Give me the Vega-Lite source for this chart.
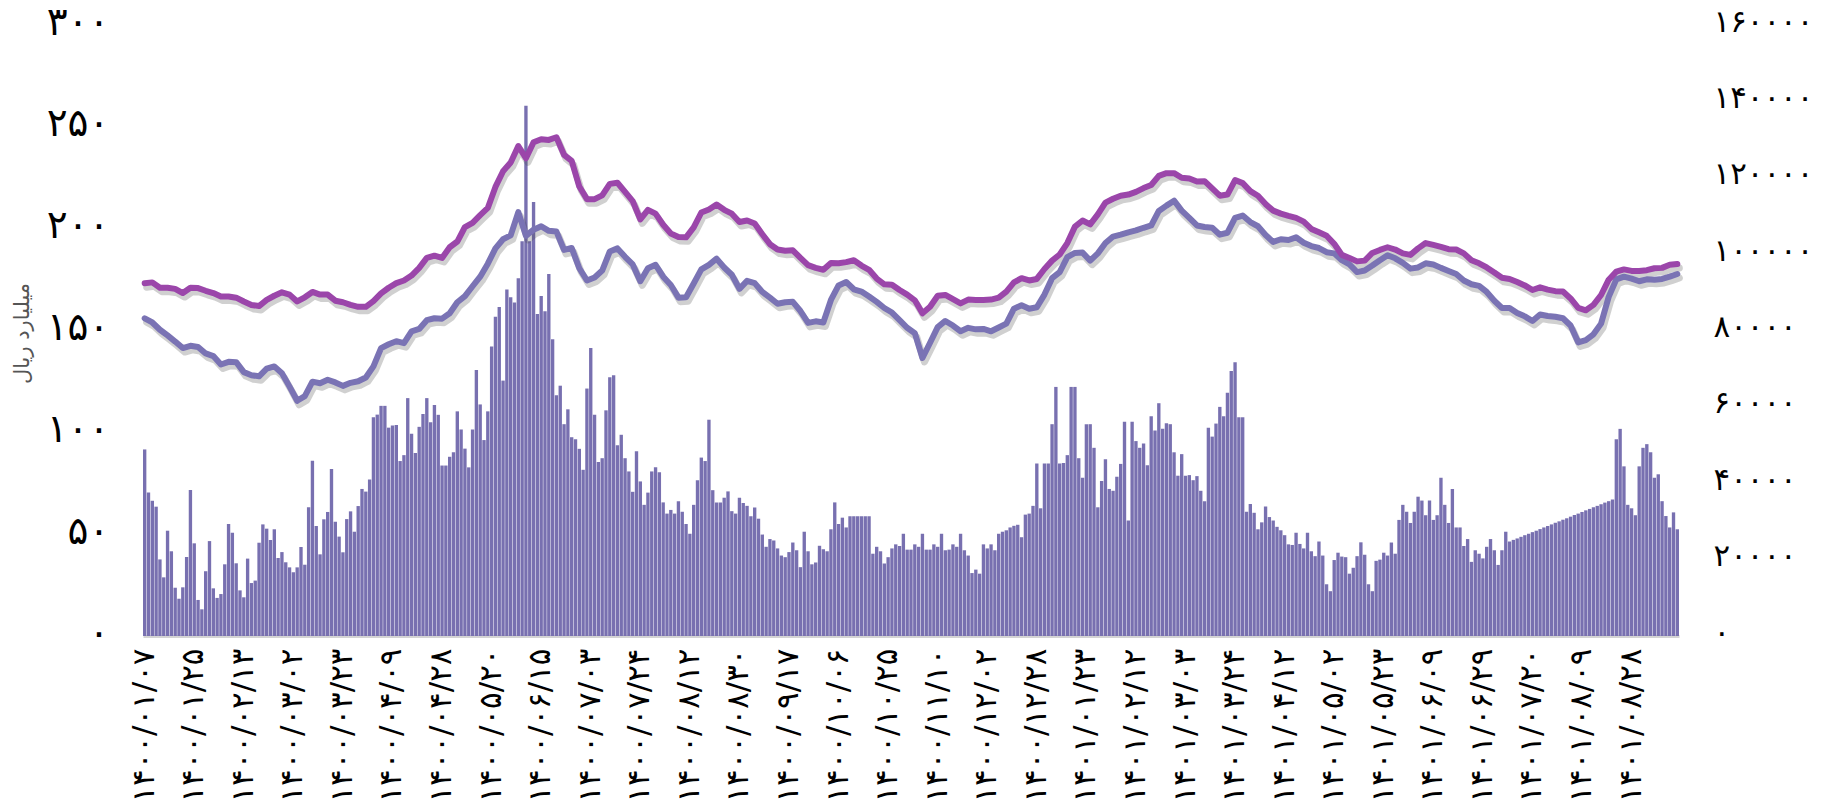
{
"$schema":"https://vega.github.io/schema/vega-lite/v6.json",
"width":1536,"height":611,
"autosize":{"type":"none"},
"padding":{"left":143,"top":25,"right":151,"bottom":166},
"background":"#ffffff",
"config":{"view":{"stroke":null},"font":"DejaVu Sans"},
"data":{"values":[
{"d":"۱۴۰۰/۰۱/۰۷","v":91.6,"a":92400,"b":83200},
{"d":"۱۴۰۰/۰۱/۰۸","v":70.5},
{"d":"۱۴۰۰/۰۱/۰۹","v":66.4,"a":92600,"b":82100},
{"d":"۱۴۰۰/۰۱/۱۰","v":63.5},
{"d":"۱۴۰۰/۰۱/۱۴","v":37.6,"a":91200,"b":80200},
{"d":"۱۴۰۰/۰۱/۱۵","v":28.8},
{"d":"۱۴۰۰/۰۱/۱۶","v":51.7,"a":91200,"b":78700},
{"d":"۱۴۰۰/۰۱/۱۷","v":41.6},
{"d":"۱۴۰۰/۰۱/۱۸","v":23.7,"a":90900,"b":77100},
{"d":"۱۴۰۰/۰۱/۲۱","v":18.3},
{"d":"۱۴۰۰/۰۱/۲۲","v":23.9,"a":89800,"b":75400},
{"d":"۱۴۰۰/۰۱/۲۳","v":38.8},
{"d":"۱۴۰۰/۰۱/۲۴","v":71.7,"a":91200,"b":76000},
{"d":"۱۴۰۰/۰۱/۲۵","v":45.5},
{"d":"۱۴۰۰/۰۱/۲۸","v":17.7,"a":91100,"b":75700},
{"d":"۱۴۰۰/۰۱/۲۹","v":13.1},
{"d":"۱۴۰۰/۰۱/۳۰","v":31.8,"a":90400,"b":74000},
{"d":"۱۴۰۰/۰۱/۳۱","v":46.6},
{"d":"۱۴۰۰/۰۲/۰۱","v":23.4,"a":89800,"b":73300},
{"d":"۱۴۰۰/۰۲/۰۴","v":18.7},
{"d":"۱۴۰۰/۰۲/۰۵","v":20.6,"a":88900,"b":71100},
{"d":"۱۴۰۰/۰۲/۰۶","v":35.2},
{"d":"۱۴۰۰/۰۲/۰۷","v":55,"a":88900,"b":71800},
{"d":"۱۴۰۰/۰۲/۰۸","v":50.7},
{"d":"۱۴۰۰/۰۲/۱۱","v":35.7,"a":88600,"b":71700},
{"d":"۱۴۰۰/۰۲/۱۲","v":22.4},
{"d":"۱۴۰۰/۰۲/۱۳","v":19,"a":87600,"b":69100},
{"d":"۱۴۰۰/۰۲/۱۵","v":38},
{"d":"۱۴۰۰/۰۲/۱۸","v":26,"a":86700,"b":68300},
{"d":"۱۴۰۰/۰۲/۱۹","v":27.2},
{"d":"۱۴۰۰/۰۲/۲۰","v":45.8,"a":86400,"b":68000},
{"d":"۱۴۰۰/۰۲/۲۱","v":54.8},
{"d":"۱۴۰۰/۰۲/۲۲","v":52.7,"a":88000,"b":70000},
{"d":"۱۴۰۰/۰۲/۲۵","v":47.1},
{"d":"۱۴۰۰/۰۲/۲۶","v":52.4,"a":89100,"b":70600},
{"d":"۱۴۰۰/۰۲/۲۷","v":38.3},
{"d":"۱۴۰۰/۰۲/۲۸","v":41.2,"a":90000,"b":68800},
{"d":"۱۴۰۰/۰۲/۲۹","v":36.2},
{"d":"۱۴۰۰/۰۳/۰۱","v":33.7,"a":89400,"b":65300},
{"d":"۱۴۰۰/۰۳/۰۲","v":31.3},
{"d":"۱۴۰۰/۰۳/۰۳","v":33.7,"a":87600,"b":61600},
{"d":"۱۴۰۰/۰۳/۰۴","v":43.7},
{"d":"۱۴۰۰/۰۳/۰۵","v":35,"a":88700,"b":62800},
{"d":"۱۴۰۰/۰۳/۰۸","v":63.2},
{"d":"۱۴۰۰/۰۳/۰۹","v":86,"a":90100,"b":66600},
{"d":"۱۴۰۰/۰۳/۱۰","v":54},
{"d":"۱۴۰۰/۰۳/۱۱","v":40.1,"a":89400,"b":66200},
{"d":"۱۴۰۰/۰۳/۱۲","v":57.3},
{"d":"۱۴۰۰/۰۳/۱۶","v":60.9,"a":89400,"b":67100},
{"d":"۱۴۰۰/۰۳/۱۷","v":82},
{"d":"۱۴۰۰/۰۳/۱۸","v":56.1,"a":87800,"b":66400},
{"d":"۱۴۰۰/۰۳/۲۲","v":48.8},
{"d":"۱۴۰۰/۰۳/۲۳","v":41.1,"a":87400,"b":65500},
{"d":"۱۴۰۰/۰۳/۲۴","v":57.4},
{"d":"۱۴۰۰/۰۳/۲۵","v":61.2,"a":86700,"b":66300},
{"d":"۱۴۰۰/۰۳/۲۶","v":51.2},
{"d":"۱۴۰۰/۰۳/۲۹","v":63.8,"a":86200,"b":66700},
{"d":"۱۴۰۰/۰۳/۳۰","v":72.2},
{"d":"۱۴۰۰/۰۳/۳۱","v":70.9,"a":86200,"b":67700},
{"d":"۱۴۰۰/۰۴/۰۱","v":76.9},
{"d":"۱۴۰۰/۰۴/۰۲","v":107.4,"a":87700,"b":70600},
{"d":"۱۴۰۰/۰۴/۰۵","v":108.7},
{"d":"۱۴۰۰/۰۴/۰۶","v":113,"a":89700,"b":75400},
{"d":"۱۴۰۰/۰۴/۰۷","v":113},
{"d":"۱۴۰۰/۰۴/۰۸","v":102.3,"a":91200,"b":76400},
{"d":"۱۴۰۰/۰۴/۰۹","v":103.3},
{"d":"۱۴۰۰/۰۴/۱۲","v":103.6,"a":92400,"b":77200},
{"d":"۱۴۰۰/۰۴/۱۳","v":85.9},
{"d":"۱۴۰۰/۰۴/۱۴","v":88.8,"a":93100,"b":76700},
{"d":"۱۴۰۰/۰۴/۱۵","v":116.8},
{"d":"۱۴۰۰/۰۴/۱۶","v":99.3,"a":94400,"b":79800},
{"d":"۱۴۰۰/۰۴/۱۹","v":89.9},
{"d":"۱۴۰۰/۰۴/۲۰","v":102.7,"a":96400,"b":80400},
{"d":"۱۴۰۰/۰۴/۲۱","v":109},
{"d":"۱۴۰۰/۰۴/۲۲","v":116.8,"a":99000,"b":82700},
{"d":"۱۴۰۰/۰۴/۲۳","v":105},
{"d":"۱۴۰۰/۰۴/۲۶","v":113.4,"a":99600,"b":83200},
{"d":"۱۴۰۰/۰۴/۲۷","v":108.6},
{"d":"۱۴۰۰/۰۴/۲۸","v":83.7,"a":99000,"b":83100},
{"d":"۱۴۰۰/۰۴/۲۹","v":83.7},
{"d":"۱۴۰۰/۰۵/۰۲","v":88,"a":101800,"b":84500},
{"d":"۱۴۰۰/۰۵/۰۴","v":90.2},
{"d":"۱۴۰۰/۰۵/۰۵","v":110.3,"a":103300,"b":87400},
{"d":"۱۴۰۰/۰۵/۰۶","v":101.4},
{"d":"۱۴۰۰/۰۵/۰۹","v":92,"a":107100,"b":89000},
{"d":"۱۴۰۰/۰۵/۱۱","v":82.8},
{"d":"۱۴۰۰/۰۵/۱۲","v":101.4,"a":108200,"b":91600},
{"d":"۱۴۰۰/۰۵/۱۳","v":130.6},
{"d":"۱۴۰۰/۰۵/۱۶","v":113.7,"a":110200,"b":94100},
{"d":"۱۴۰۰/۰۵/۱۸","v":96.2},
{"d":"۱۴۰۰/۰۵/۱۹","v":110.3,"a":112100,"b":97500},
{"d":"۱۴۰۰/۰۵/۲۰","v":142.1},
{"d":"۱۴۰۰/۰۵/۲۳","v":156.7,"a":117600,"b":101500},
{"d":"۱۴۰۰/۰۵/۲۴","v":161.5},
{"d":"۱۴۰۰/۰۵/۲۶","v":125.4,"a":121700,"b":103900},
{"d":"۱۴۰۰/۰۵/۳۰","v":170.1},
{"d":"۱۴۰۰/۰۶/۰۱","v":166.3,"a":124000,"b":104900},
{"d":"۱۴۰۰/۰۶/۰۲","v":163.7},
{"d":"۱۴۰۰/۰۶/۰۳","v":175.6,"a":128300,"b":111000},
{"d":"۱۴۰۰/۰۶/۰۶","v":193.8},
{"d":"۱۴۰۰/۰۶/۰۸","v":260.3,"a":125100,"b":104800},
{"d":"۱۴۰۰/۰۶/۰۹","v":193.8},
{"d":"۱۴۰۰/۰۶/۱۰","v":213.1,"a":129300,"b":106400},
{"d":"۱۴۰۰/۰۶/۱۴","v":158.1},
{"d":"۱۴۰۰/۰۶/۱۵","v":167,"a":130100,"b":107300},
{"d":"۱۴۰۰/۰۶/۱۶","v":159.5},
{"d":"۱۴۰۰/۰۶/۱۷","v":177.8,"a":129900,"b":106100},
{"d":"۱۴۰۰/۰۶/۲۰","v":145.7},
{"d":"۱۴۰۰/۰۶/۲۱","v":118.2,"a":130600,"b":105900},
{"d":"۱۴۰۰/۰۶/۲۲","v":122.9},
{"d":"۱۴۰۰/۰۶/۲۳","v":104,"a":126000,"b":101100},
{"d":"۱۴۰۰/۰۶/۲۴","v":111.3},
{"d":"۱۴۰۰/۰۶/۲۷","v":97.6,"a":124400,"b":101600},
{"d":"۱۴۰۰/۰۶/۲۸","v":96.6},
{"d":"۱۴۰۰/۰۶/۲۹","v":91.9,"a":117700,"b":96300},
{"d":"۱۴۰۰/۰۶/۳۰","v":81.6},
{"d":"۱۴۰۰/۰۶/۳۱","v":121.5,"a":114400,"b":93100},
{"d":"۱۴۰۰/۰۷/۰۳","v":141.4},
{"d":"۱۴۰۰/۰۷/۰۴","v":108.6,"a":114400,"b":93900},
{"d":"۱۴۰۰/۰۷/۰۵","v":85.4},
{"d":"۱۴۰۰/۰۷/۰۷","v":87.3,"a":115400,"b":95700},
{"d":"۱۴۰۰/۰۷/۱۰","v":110.8},
{"d":"۱۴۰۰/۰۷/۱۱","v":127.1,"a":118400,"b":100700},
{"d":"۱۴۰۰/۰۷/۱۲","v":128},
{"d":"۱۴۰۰/۰۷/۱۴","v":93.6,"a":118700,"b":101500},
{"d":"۱۴۰۰/۰۷/۱۷","v":98.8},
{"d":"۱۴۰۰/۰۷/۱۸","v":87.3,"a":116300,"b":99300},
{"d":"۱۴۰۰/۰۷/۱۹","v":80.8},
{"d":"۱۴۰۰/۰۷/۲۰","v":70.8,"a":113900,"b":97300},
{"d":"۱۴۰۰/۰۷/۲۱","v":90.7},
{"d":"۱۴۰۰/۰۷/۲۴","v":75.9,"a":109100,"b":92900},
{"d":"۱۴۰۰/۰۷/۲۵","v":64.4},
{"d":"۱۴۰۰/۰۷/۲۶","v":70.4,"a":111600,"b":96300},
{"d":"۱۴۰۰/۰۷/۲۷","v":80.8},
{"d":"۱۴۰۰/۰۷/۲۸","v":82.8,"a":110600,"b":97200},
{"d":"۱۴۰۰/۰۸/۰۱","v":80.4},
{"d":"۱۴۰۰/۰۸/۰۳","v":65.6,"a":107700,"b":94100},
{"d":"۱۴۰۰/۰۸/۰۴","v":60.1},
{"d":"۱۴۰۰/۰۸/۰۵","v":61.9,"a":105400,"b":91900},
{"d":"۱۴۰۰/۰۸/۰۸","v":60.1},
{"d":"۱۴۰۰/۰۸/۰۹","v":66.2,"a":104500,"b":88600},
{"d":"۱۴۰۰/۰۸/۱۰","v":61},
{"d":"۱۴۰۰/۰۸/۱۱","v":55,"a":104400,"b":88700},
{"d":"۱۴۰۰/۰۸/۱۲","v":50.2},
{"d":"۱۴۰۰/۰۸/۱۳","v":64.4,"a":107000,"b":92300},
{"d":"۱۴۰۰/۰۸/۱۵","v":76.5},
{"d":"۱۴۰۰/۰۸/۱۶","v":87.6,"a":110900,"b":96000},
{"d":"۱۴۰۰/۰۸/۱۷","v":85.9},
{"d":"۱۴۰۰/۰۸/۱۸","v":106.2,"a":111700,"b":97200},
{"d":"۱۴۰۰/۰۸/۱۹","v":71.6},
{"d":"۱۴۰۰/۰۸/۲۲","v":65.6,"a":113000,"b":98800},
{"d":"۱۴۰۰/۰۸/۲۳","v":65.6},
{"d":"۱۴۰۰/۰۸/۲۴","v":67.9,"a":111600,"b":96500},
{"d":"۱۴۰۰/۰۸/۲۵","v":71},
{"d":"۱۴۰۰/۰۸/۲۶","v":61.3,"a":110600,"b":94600},
{"d":"۱۴۰۰/۰۸/۲۹","v":60.1},
{"d":"۱۴۰۰/۰۸/۳۰","v":67.9,"a":108400,"b":90900},
{"d":"۱۴۰۰/۰۹/۰۱","v":65.3},
{"d":"۱۴۰۰/۰۹/۰۲","v":63.9,"a":108800,"b":93000},
{"d":"۱۴۰۰/۰۹/۰۳","v":58.8},
{"d":"۱۴۰۰/۰۹/۰۶","v":63.1,"a":108000,"b":92400},
{"d":"۱۴۰۰/۰۹/۰۷","v":57.6},
{"d":"۱۴۰۰/۰۹/۰۸","v":49.8,"a":105200,"b":90100},
{"d":"۱۴۰۰/۰۹/۰۹","v":43.8},
{"d":"۱۴۰۰/۰۹/۱۰","v":47.6,"a":102600,"b":88600},
{"d":"۱۴۰۰/۰۹/۱۳","v":46.9},
{"d":"۱۴۰۰/۰۹/۱۴","v":43,"a":101200,"b":87000},
{"d":"۱۴۰۰/۰۹/۱۵","v":39.5},
{"d":"۱۴۰۰/۰۹/۱۶","v":38.7,"a":100900,"b":87400},
{"d":"۱۴۰۰/۰۹/۱۷","v":41.2},
{"d":"۱۴۰۰/۰۹/۲۰","v":45.9,"a":101000,"b":87500},
{"d":"۱۴۰۰/۰۹/۲۱","v":42.1},
{"d":"۱۴۰۰/۰۹/۲۲","v":33.8,"a":99000,"b":85100},
{"d":"۱۴۰۰/۰۹/۲۳","v":51.2},
{"d":"۱۴۰۰/۰۹/۲۴","v":41.6,"a":97100,"b":82000},
{"d":"۱۴۰۰/۰۹/۲۷","v":35.2},
{"d":"۱۴۰۰/۰۹/۲۸","v":36.1,"a":96400,"b":82400},
{"d":"۱۴۰۰/۰۹/۲۹","v":44.3},
{"d":"۱۴۰۰/۰۹/۳۰","v":42.6,"a":95900,"b":82100},
{"d":"۱۴۰۰/۱۰/۰۱","v":41.6},
{"d":"۱۴۰۰/۱۰/۰۴","v":52.4,"a":97700,"b":88000},
{"d":"۱۴۰۰/۱۰/۰۵","v":65.6},
{"d":"۱۴۰۰/۱۰/۰۶","v":55,"a":97600,"b":91800},
{"d":"۱۴۰۰/۱۰/۰۷","v":58.1},
{"d":"۱۴۰۰/۱۰/۰۸","v":53.3,"a":97900,"b":92700},
{"d":"۱۴۰۰/۱۰/۱۱","v":58.8},
{"d":"۱۴۰۰/۱۰/۱۲","v":58.8,"a":98400,"b":90800},
{"d":"۱۴۰۰/۱۰/۱۳","v":58.8},
{"d":"۱۴۰۰/۱۰/۱۴","v":58.8,"a":97000,"b":90200},
{"d":"۱۴۰۰/۱۰/۱۵","v":58.8},
{"d":"۱۴۰۰/۱۰/۱۸","v":58.8,"a":95900,"b":88900},
{"d":"۱۴۰۰/۱۰/۱۹","v":40.4},
{"d":"۱۴۰۰/۱۰/۲۰","v":43.8,"a":93600,"b":87500},
{"d":"۱۴۰۰/۱۰/۲۱","v":41.6},
{"d":"۱۴۰۰/۱۰/۲۲","v":35.6,"a":92100,"b":85900},
{"d":"۱۴۰۰/۱۰/۲۵","v":38.7},
{"d":"۱۴۰۰/۱۰/۲۶","v":43,"a":92000,"b":84700},
{"d":"۱۴۰۰/۱۰/۲۷","v":45},
{"d":"۱۴۰۰/۱۰/۲۸","v":44.2,"a":90600,"b":82700},
{"d":"۱۴۰۰/۱۰/۲۹","v":50.2},
{"d":"۱۴۰۰/۱۰/۳۰","v":42.4,"a":89400,"b":80700},
{"d":"۱۴۰۰/۱۱/۰۲","v":42.4},
{"d":"۱۴۰۰/۱۱/۰۳","v":45,"a":87900,"b":79300},
{"d":"۱۴۰۰/۱۱/۰۴","v":43.8},
{"d":"۱۴۰۰/۱۱/۰۵","v":50.2,"a":84500,"b":72800},
{"d":"۱۴۰۰/۱۱/۰۶","v":42.4},
{"d":"۱۴۰۰/۱۱/۰۷","v":42.4,"a":86200,"b":76800},
{"d":"۱۴۰۰/۱۱/۰۹","v":45},
{"d":"۱۴۰۰/۱۱/۱۰","v":43.8,"a":89100,"b":80900},
{"d":"۱۴۰۰/۱۱/۱۱","v":50.2},
{"d":"۱۴۰۰/۱۱/۱۳","v":42.1,"a":89300,"b":82500},
{"d":"۱۴۰۰/۱۱/۱۶","v":42.4},
{"d":"۱۴۰۰/۱۱/۱۷","v":45,"a":88200,"b":81300},
{"d":"۱۴۰۰/۱۱/۱۸","v":43.8},
{"d":"۱۴۰۰/۱۱/۲۰","v":50.2,"a":87100,"b":79800},
{"d":"۱۴۰۰/۱۱/۲۳","v":42.1},
{"d":"۱۴۰۰/۱۱/۲۴","v":39.5,"a":88100,"b":80700},
{"d":"۱۴۰۰/۱۱/۲۵","v":30.9},
{"d":"۱۴۰۰/۱۱/۲۷","v":32.6,"a":88000,"b":80300},
{"d":"۱۴۰۰/۱۱/۳۰","v":30.6},
{"d":"۱۴۰۰/۱۲/۰۱","v":45,"a":88000,"b":80400},
{"d":"۱۴۰۰/۱۲/۰۲","v":43},
{"d":"۱۴۰۰/۱۲/۰۳","v":45,"a":88100,"b":79800},
{"d":"۱۴۰۰/۱۲/۰۴","v":42.1},
{"d":"۱۴۰۰/۱۲/۰۷","v":50.2,"a":88600,"b":80800},
{"d":"۱۴۰۰/۱۲/۰۹","v":51.2},
{"d":"۱۴۰۰/۱۲/۱۱","v":51.9,"a":90200,"b":81800},
{"d":"۱۴۰۰/۱۲/۱۴","v":53.3},
{"d":"۱۴۰۰/۱۲/۱۶","v":54.1,"a":92600,"b":85700},
{"d":"۱۴۰۰/۱۲/۱۸","v":54.6},
{"d":"۱۴۰۰/۱۲/۲۱","v":48.5,"a":93700,"b":86600},
{"d":"۱۴۰۰/۱۲/۲۳","v":59.6},
{"d":"۱۴۰۰/۱۲/۲۴","v":60.1,"a":93100,"b":85700},
{"d":"۱۴۰۰/۱۲/۲۵","v":63.9},
{"d":"۱۴۰۰/۱۲/۲۸","v":84.7,"a":93500,"b":86100},
{"d":"۱۴۰۰/۱۲/۲۹","v":62.7},
{"d":"۱۴۰۱/۰۱/۰۷","v":84.7,"a":96100,"b":89400},
{"d":"۱۴۰۱/۰۱/۰۸","v":84.7},
{"d":"۱۴۰۱/۰۱/۰۹","v":104,"a":98300,"b":93700},
{"d":"۱۴۰۱/۰۱/۱۰","v":122.3},
{"d":"۱۴۰۱/۰۱/۱۴","v":84.7,"a":99900,"b":95300},
{"d":"۱۴۰۱/۰۱/۱۵","v":85},
{"d":"۱۴۰۱/۰۱/۱۶","v":88.8,"a":102900,"b":99200},
{"d":"۱۴۰۱/۰۱/۱۷","v":122.3},
{"d":"۱۴۰۱/۰۱/۲۰","v":122.3,"a":107200,"b":100300},
{"d":"۱۴۰۱/۰۱/۲۱","v":87.3},
{"d":"۱۴۰۱/۰۱/۲۲","v":77.7,"a":108800,"b":100400},
{"d":"۱۴۰۱/۰۱/۲۳","v":104},
{"d":"۱۴۰۱/۰۱/۲۴","v":104,"a":107800,"b":98300},
{"d":"۱۴۰۱/۰۱/۲۷","v":92.4},
{"d":"۱۴۰۱/۰۱/۲۸","v":63.2,"a":110400,"b":100200},
{"d":"۱۴۰۱/۰۱/۲۹","v":76.1},
{"d":"۱۴۰۱/۰۱/۳۰","v":86.8,"a":113500,"b":102900},
{"d":"۱۴۰۱/۰۱/۳۱","v":72.2},
{"d":"۱۴۰۱/۰۲/۰۳","v":71.3,"a":114500,"b":104600},
{"d":"۱۴۰۱/۰۲/۰۵","v":78.2},
{"d":"۱۴۰۱/۰۲/۰۶","v":84.5,"a":115300,"b":105100},
{"d":"۱۴۰۱/۰۲/۰۷","v":105.2},
{"d":"۱۴۰۱/۰۲/۱۰","v":56.7,"a":115600,"b":105700},
{"d":"۱۴۰۱/۰۲/۱۱","v":105.2},
{"d":"۱۴۰۱/۰۲/۱۲","v":95.7,"a":116300,"b":106200},
{"d":"۱۴۰۱/۰۲/۱۸","v":92.4},
{"d":"۱۴۰۱/۰۲/۱۹","v":94.5,"a":117300,"b":106900},
{"d":"۱۴۰۱/۰۲/۲۰","v":83.8},
{"d":"۱۴۰۱/۰۲/۲۱","v":107.9,"a":118100,"b":107500},
{"d":"۱۴۰۱/۰۲/۲۴","v":100.9},
{"d":"۱۴۰۱/۰۲/۲۵","v":114.3,"a":120500,"b":111300},
{"d":"۱۴۰۱/۰۲/۲۶","v":101.7},
{"d":"۱۴۰۱/۰۲/۲۷","v":104.5,"a":121200,"b":112700},
{"d":"۱۴۰۱/۰۲/۲۸","v":104},
{"d":"۱۴۰۱/۰۲/۳۱","v":90.2,"a":121200,"b":114000},
{"d":"۱۴۰۱/۰۳/۰۱","v":78.7},
{"d":"۱۴۰۱/۰۳/۰۲","v":89.3,"a":120000,"b":111400},
{"d":"۱۴۰۱/۰۳/۰۳","v":78.7},
{"d":"۱۴۰۱/۰۳/۰۴","v":79,"a":119800,"b":109500},
{"d":"۱۴۰۱/۰۳/۰۷","v":76.5},
{"d":"۱۴۰۱/۰۳/۰۸","v":78.5,"a":119000,"b":107500},
{"d":"۱۴۰۱/۰۳/۰۹","v":71.3},
{"d":"۱۴۰۱/۰۳/۱۰","v":66.2,"a":119100,"b":107100},
{"d":"۱۴۰۱/۰۳/۱۱","v":102.2},
{"d":"۱۴۰۱/۰۳/۱۶","v":97.9,"a":117200,"b":106900},
{"d":"۱۴۰۱/۰۳/۱۷","v":104.3},
{"d":"۱۴۰۱/۰۳/۱۸","v":112.5,"a":115300,"b":105100},
{"d":"۱۴۰۱/۰۳/۲۱","v":107.9},
{"d":"۱۴۰۱/۰۳/۲۲","v":119.4,"a":115600,"b":105600},
{"d":"۱۴۰۱/۰۳/۲۳","v":130.1},
{"d":"۱۴۰۱/۰۳/۲۴","v":134.4,"a":119400,"b":109500},
{"d":"۱۴۰۱/۰۳/۲۵","v":107.4},
{"d":"۱۴۰۱/۰۳/۲۸","v":107.4,"a":118600,"b":110100},
{"d":"۱۴۰۱/۰۳/۲۹","v":61},
{"d":"۱۴۰۱/۰۳/۳۰","v":64.8,"a":116500,"b":108400},
{"d":"۱۴۰۱/۰۳/۳۱","v":60.5},
{"d":"۱۴۰۱/۰۴/۰۱","v":52.4,"a":115300,"b":107300},
{"d":"۱۴۰۱/۰۴/۰۴","v":55.8},
{"d":"۱۴۰۱/۰۴/۰۵","v":63.6,"a":113100,"b":105000},
{"d":"۱۴۰۱/۰۴/۰۶","v":58.4},
{"d":"۱۴۰۱/۰۴/۰۷","v":56.7,"a":111400,"b":103200},
{"d":"۱۴۰۱/۰۴/۰۸","v":53.6},
{"d":"۱۴۰۱/۰۴/۱۱","v":51.9,"a":110600,"b":103900},
{"d":"۱۴۰۱/۰۴/۱۲","v":49.5},
{"d":"۱۴۰۱/۰۴/۱۳","v":45,"a":110000,"b":103700},
{"d":"۱۴۰۱/۰۴/۱۴","v":44.7},
{"d":"۱۴۰۱/۰۴/۱۵","v":50.7,"a":109500,"b":104400},
{"d":"۱۴۰۱/۰۴/۱۹","v":45.2},
{"d":"۱۴۰۱/۰۴/۲۰","v":43,"a":108500,"b":103000},
{"d":"۱۴۰۱/۰۴/۲۱","v":50.7},
{"d":"۱۴۰۱/۰۴/۲۲","v":41.6,"a":106600,"b":102100},
{"d":"۱۴۰۱/۰۴/۲۵","v":39.2},
{"d":"۱۴۰۱/۰۴/۲۷","v":46.4,"a":105700,"b":101600},
{"d":"۱۴۰۱/۰۴/۲۸","v":39.5},
{"d":"۱۴۰۱/۰۴/۲۹","v":25.4,"a":104800,"b":100500},
{"d":"۱۴۰۱/۰۵/۰۱","v":22},
{"d":"۱۴۰۱/۰۵/۰۲","v":37.3,"a":102700,"b":100200},
{"d":"۱۴۰۱/۰۵/۰۳","v":40.9},
{"d":"۱۴۰۱/۰۵/۰۴","v":39,"a":99800,"b":98400},
{"d":"۱۴۰۱/۰۵/۰۵","v":38.7},
{"d":"۱۴۰۱/۰۵/۰۸","v":30.6,"a":99000,"b":97300},
{"d":"۱۴۰۱/۰۵/۰۹","v":33.5},
{"d":"۱۴۰۱/۰۵/۱۰","v":39.2,"a":98100,"b":95300},
{"d":"۱۴۰۱/۰۵/۱۱","v":46},
{"d":"۱۴۰۱/۰۵/۱۲","v":39.9,"a":98300,"b":95700},
{"d":"۱۴۰۱/۰۵/۱۵","v":25.4},
{"d":"۱۴۰۱/۰۵/۱۸","v":22,"a":100300,"b":97000},
{"d":"۱۴۰۱/۰۵/۱۹","v":36.9},
{"d":"۱۴۰۱/۰۵/۲۲","v":37.5,"a":101100,"b":98400},
{"d":"۱۴۰۱/۰۵/۲۳","v":40.9},
{"d":"۱۴۰۱/۰۵/۲۴","v":39.5,"a":101800,"b":99700},
{"d":"۱۴۰۱/۰۵/۲۵","v":45.9},
{"d":"۱۴۰۱/۰۵/۲۶","v":40.4,"a":101200,"b":98900},
{"d":"۱۴۰۱/۰۵/۲۹","v":57},
{"d":"۱۴۰۱/۰۵/۳۰","v":64.4,"a":100200,"b":97700},
{"d":"۱۴۰۱/۰۵/۳۱","v":61},
{"d":"۱۴۰۱/۰۶/۰۱","v":55.5,"a":99800,"b":96200},
{"d":"۱۴۰۱/۰۶/۰۲","v":61},
{"d":"۱۴۰۱/۰۶/۰۵","v":68.4,"a":101500,"b":96500},
{"d":"۱۴۰۱/۰۶/۰۶","v":66.5},
{"d":"۱۴۰۱/۰۶/۰۷","v":59.3,"a":102900,"b":97600},
{"d":"۱۴۰۱/۰۶/۰۸","v":66.5},
{"d":"۱۴۰۱/۰۶/۰۹","v":57,"a":102400,"b":97300},
{"d":"۱۴۰۱/۰۶/۱۲","v":59.3},
{"d":"۱۴۰۱/۰۶/۱۳","v":77.7,"a":101900,"b":96400},
{"d":"۱۴۰۱/۰۶/۱۴","v":64.4},
{"d":"۱۴۰۱/۰۶/۱۵","v":55.5,"a":101300,"b":95600},
{"d":"۱۴۰۱/۰۶/۱۶","v":72.2},
{"d":"۱۴۰۱/۰۶/۱۹","v":53.3,"a":101200,"b":94800},
{"d":"۱۴۰۱/۰۶/۲۰","v":53.3},
{"d":"۱۴۰۱/۰۶/۲۱","v":44.2,"a":100200,"b":93100},
{"d":"۱۴۰۱/۰۶/۲۲","v":47.6},
{"d":"۱۴۰۱/۰۶/۲۳","v":36.4,"a":98400,"b":92100},
{"d":"۱۴۰۱/۰۶/۲۷","v":42.1},
{"d":"۱۴۰۱/۰۶/۲۸","v":40.4,"a":97600,"b":91700},
{"d":"۱۴۰۱/۰۶/۲۹","v":38.1},
{"d":"۱۴۰۱/۰۶/۳۰","v":43.8,"a":96500,"b":90100},
{"d":"۱۴۰۱/۰۷/۰۲","v":47.6},
{"d":"۱۴۰۱/۰۷/۰۳","v":42.1,"a":95200,"b":87800},
{"d":"۱۴۰۱/۰۷/۰۶","v":34.9},
{"d":"۱۴۰۱/۰۷/۰۹","v":42.1,"a":93800,"b":85900},
{"d":"۱۴۰۱/۰۷/۱۰","v":51.2},
{"d":"۱۴۰۱/۰۷/۱۱","v":46.4,"a":93500,"b":85900},
{"d":"۱۴۰۱/۰۷/۱۳","v":47.2},
{"d":"۱۴۰۱/۰۷/۱۶","v":47.9,"a":92700,"b":84600},
{"d":"۱۴۰۱/۰۷/۱۷","v":48.7},
{"d":"۱۴۰۱/۰۷/۱۸","v":49.5,"a":91800,"b":83700},
{"d":"۱۴۰۱/۰۷/۱۹","v":50.2},
{"d":"۱۴۰۱/۰۷/۲۰","v":51,"a":90600,"b":82500},
{"d":"۱۴۰۱/۰۷/۲۳","v":51.7},
{"d":"۱۴۰۱/۰۷/۲۴","v":52.5,"a":91300,"b":84200},
{"d":"۱۴۰۱/۰۷/۲۵","v":53.3},
{"d":"۱۴۰۱/۰۷/۲۶","v":54,"a":90700,"b":83800},
{"d":"۱۴۰۱/۰۷/۲۷","v":54.8},
{"d":"۱۴۰۱/۰۷/۳۰","v":55.6,"a":90300,"b":83600},
{"d":"۱۴۰۱/۰۸/۰۱","v":56.3},
{"d":"۱۴۰۱/۰۸/۰۲","v":57.1,"a":90200,"b":83200},
{"d":"۱۴۰۱/۰۸/۰۳","v":57.8},
{"d":"۱۴۰۱/۰۸/۰۴","v":58.6,"a":88400,"b":81300},
{"d":"۱۴۰۱/۰۸/۰۷","v":59.4},
{"d":"۱۴۰۱/۰۸/۰۸","v":60.1,"a":85900,"b":76900},
{"d":"۱۴۰۱/۰۸/۰۹","v":60.9},
{"d":"۱۴۰۱/۰۸/۱۰","v":61.7,"a":85300,"b":77500},
{"d":"۱۴۰۱/۰۸/۱۱","v":62.4},
{"d":"۱۴۰۱/۰۸/۱۴","v":63.2,"a":86700,"b":79000},
{"d":"۱۴۰۱/۰۸/۱۵","v":63.9},
{"d":"۱۴۰۱/۰۸/۱۶","v":64.7,"a":89300,"b":81800},
{"d":"۱۴۰۱/۰۸/۱۷","v":65.5},
{"d":"۱۴۰۱/۰۸/۱۸","v":66.2,"a":93300,"b":88800},
{"d":"۱۴۰۱/۰۸/۲۱","v":67},
{"d":"۱۴۰۱/۰۸/۲۲","v":96.6,"a":95400,"b":93400},
{"d":"۱۴۰۱/۰۸/۲۳","v":101.7},
{"d":"۱۴۰۱/۰۸/۲۴","v":83.3,"a":96000,"b":94100},
{"d":"۱۴۰۱/۰۸/۲۵","v":64.4},
{"d":"۱۴۰۱/۰۸/۲۸","v":62.7,"a":95600,"b":93600},
{"d":"۱۴۰۱/۰۸/۲۹","v":59.3},
{"d":"۱۴۰۱/۰۸/۳۰","v":83.3,"a":95600,"b":92900},
{"d":"۱۴۰۱/۰۹/۰۱","v":92.4},
{"d":"۱۴۰۱/۰۹/۰۲","v":94.2,"a":95800,"b":93400},
{"d":"۱۴۰۱/۰۹/۰۵","v":90.2},
{"d":"۱۴۰۱/۰۹/۰۶","v":77.7,"a":96300,"b":93300},
{"d":"۱۴۰۱/۰۹/۰۷","v":79.4},
{"d":"۱۴۰۱/۰۹/۰۸","v":66.2,"a":96400,"b":93500},
{"d":"۱۴۰۱/۰۹/۰۹","v":58.9},
{"d":"۱۴۰۱/۰۹/۱۲","v":53.3,"a":97200,"b":94100},
{"d":"۱۴۰۱/۰۹/۱۳","v":60.7},
{"d":"۱۴۰۱/۰۹/۱۴","v":52.4,"a":97400,"b":94800}
]},
"encoding":{
 "x":{"field":"d","type":"ordinal","sort":"ascending",
  "scale":{"paddingInner":0.12,"paddingOuter":0},
  "axis":{"title":null,"ticks":false,"domain":true,"domainColor":"#d4d4d4","domainWidth":3,
   "labelAngle":270,"labelAlign":"right","labelBaseline":"middle","labelFontSize":31,"labelColor":"#000000",
   "labelPadding":12,"labelOverlap":false,"labelBound":false,"labelFont":"DejaVu Sans",
   "values":["۱۴۰۰/۰۱/۰۷","۱۴۰۰/۰۱/۲۵","۱۴۰۰/۰۲/۱۳","۱۴۰۰/۰۳/۰۲","۱۴۰۰/۰۳/۲۳","۱۴۰۰/۰۴/۰۹","۱۴۰۰/۰۴/۲۸","۱۴۰۰/۰۵/۲۰","۱۴۰۰/۰۶/۱۵","۱۴۰۰/۰۷/۰۳","۱۴۰۰/۰۷/۲۴","۱۴۰۰/۰۸/۱۲","۱۴۰۰/۰۸/۳۰","۱۴۰۰/۰۹/۱۷","۱۴۰۰/۱۰/۰۶","۱۴۰۰/۱۰/۲۵","۱۴۰۰/۱۱/۱۰","۱۴۰۰/۱۲/۰۲","۱۴۰۰/۱۲/۲۸","۱۴۰۱/۰۱/۲۳","۱۴۰۱/۰۲/۱۲","۱۴۰۱/۰۳/۰۳","۱۴۰۱/۰۳/۲۴","۱۴۰۱/۰۴/۱۲","۱۴۰۱/۰۵/۰۲","۱۴۰۱/۰۵/۲۳","۱۴۰۱/۰۶/۰۹","۱۴۰۱/۰۶/۲۹","۱۴۰۱/۰۷/۲۰","۱۴۰۱/۰۸/۰۹","۱۴۰۱/۰۸/۲۸"]}}
},
"layer":[
 {"mark":{"type":"bar","color":"#7870b0"},
  "encoding":{"y":{"field":"v","type":"quantitative","scale":{"domain":[0,300],"nice":false},
   "axis":{"values":[0,50,100,150,200,250,300],"labelExpr":"['۰','۵۰','۱۰۰','۱۵۰','۲۰۰','۲۵۰','۳۰۰'][datum.value/50]",
    "labelFontSize":39,"labelColor":"#000000","labelFont":"DejaVu Sans","ticks":false,"domain":false,"grid":false,"labelPadding":34,"labelOffset":-3,
    "title":"میلیارد ریال","titleFont":"DejaVu Sans","titleFontSize":21,"titleFontWeight":"normal","titleColor":"#555555",
    "titleAngle":270,"titleX":-121,"titleY":308,"titleAlign":"center","titleBaseline":"middle"}}}},
 {"transform":[{"fold":["b","a"],"as":["s","val"]},{"filter":"isValid(datum.val)"}],
  "encoding":{"y":{"field":"val","type":"quantitative","scale":{"domain":[0,160000],"nice":false},
   "axis":{"orient":"right","values":[0,20000,40000,60000,80000,100000,120000,140000,160000],
    "labelExpr":"['۰','۲۰۰۰۰','۴۰۰۰۰','۶۰۰۰۰','۸۰۰۰۰','۱۰۰۰۰۰','۱۲۰۰۰۰','۱۴۰۰۰۰','۱۶۰۰۰۰'][datum.value/20000]",
    "labelFontSize":31,"labelColor":"#000000","labelFont":"DejaVu Sans","ticks":false,"domain":false,"grid":false,"labelPadding":34,"labelOffset":-3,"title":null}}},
  "layer":[
   {"mark":{"type":"line","stroke":"#444444","strokeWidth":7,"opacity":0.25,"yOffset":4,"xOffset":2,"strokeJoin":"round","strokeCap":"round"},
    "encoding":{"detail":{"field":"s"}}},
   {"transform":[{"filter":"datum.s == 'b'"}],
    "mark":{"type":"line","stroke":"#7a73b4","strokeWidth":6,"strokeJoin":"round","strokeCap":"round"}},
   {"transform":[{"filter":"datum.s == 'a'"}],
    "mark":{"type":"line","stroke":"#9b46aa","strokeWidth":6,"strokeJoin":"round","strokeCap":"round"}}
  ]}
],
"resolve":{"scale":{"y":"independent"}}
}
